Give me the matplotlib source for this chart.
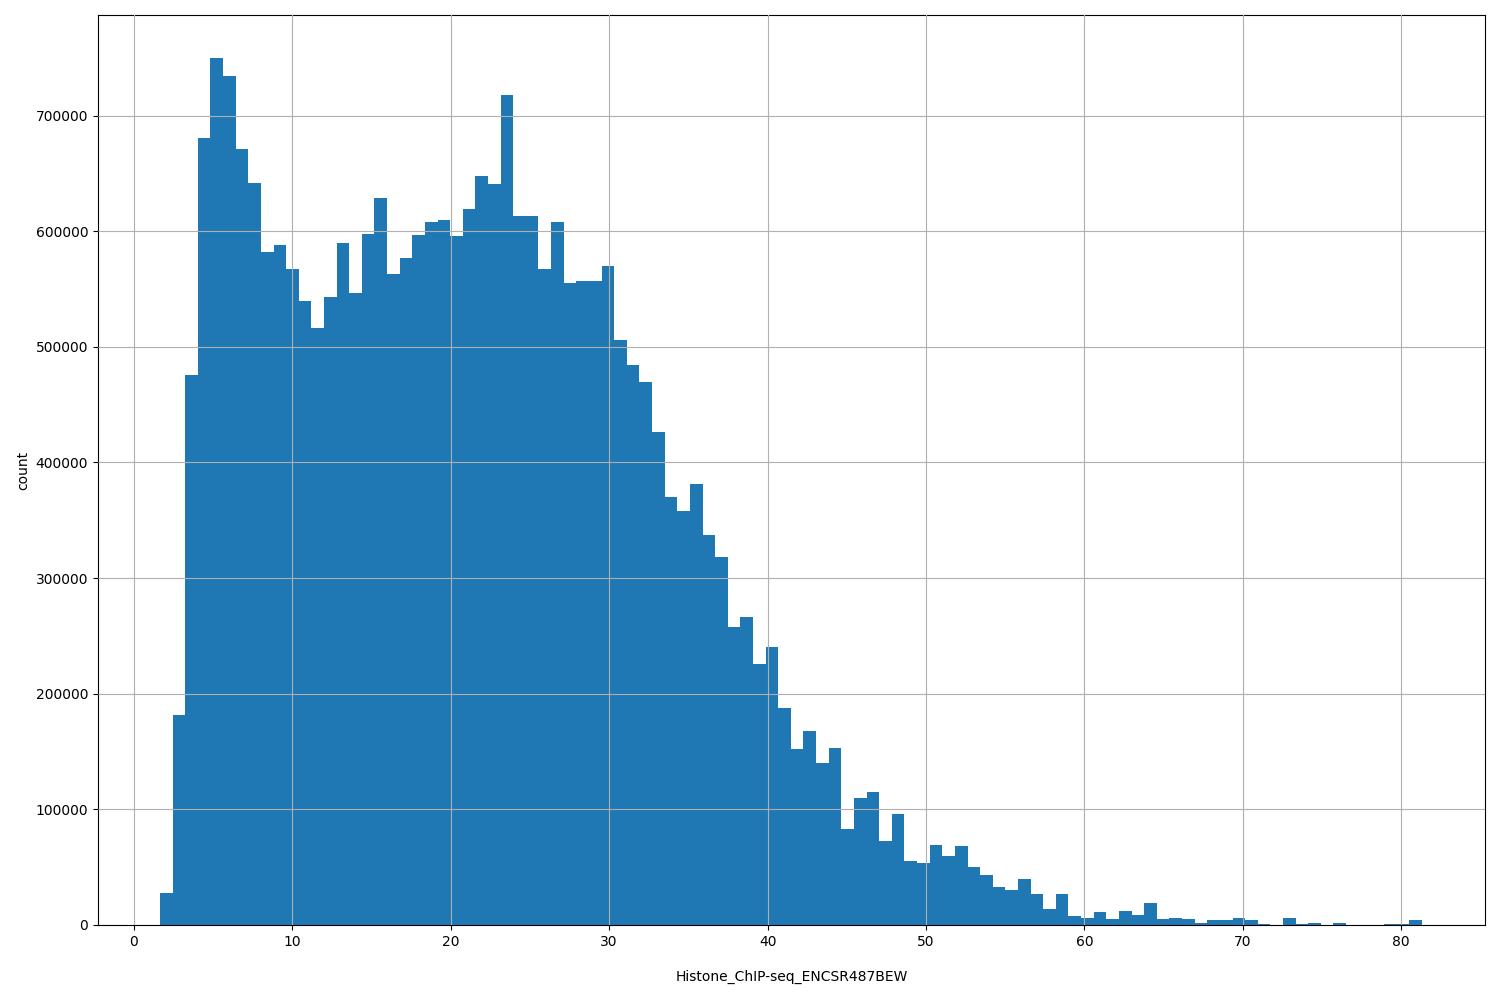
import matplotlib
matplotlib.use("Agg")
import matplotlib.pyplot as plt
import numpy as np

# histogram: 100 bins between ~1.64 and ~81.3
bin_start = 1.64
bin_stop = 81.3
counts = [28000, 182000, 476000, 681000, 750000, 734000, 671000, 642000, 582000, 588000,
          567000, 540000, 516000, 543000, 590000, 547000, 598000, 629000, 563000, 577000,
          597000, 608000, 610000, 596000, 619000, 648000, 641000, 718000, 613000, 613000,
          567000, 608000, 555000, 557000, 557000, 570000, 506000, 484000, 470000, 426000,
          370000, 358000, 381000, 337000, 318000, 258000, 266000, 226000, 240000, 188000,
          152000, 168000, 140000, 153000, 83000, 110000, 115000, 73000, 96000, 55000,
          54000, 69000, 60000, 68000, 50000, 43000, 33000, 30000, 40000, 27000,
          14000, 27000, 8000, 6000, 11000, 5000, 12000, 9000, 19000, 5000,
          6000, 5000, 1500, 4000, 4000, 6000, 4000, 500, 0, 6000,
          1000, 2000, 0, 2000, 0, 0, 0, 1000, 500, 4000]

edges = np.linspace(bin_start, bin_stop, len(counts) + 1)

fig = plt.figure(figsize=(15, 10), dpi=100)
ax = fig.add_axes([98/1500, 75/1000, (1485-98)/1500, (925-15)/1000])
ax.hist(edges[:-1], bins=edges, weights=counts, color='#1f77b4')
ax.grid(True)
ax.set_axisbelow(False)
ax.set_xlabel('Histone_ChIP-seq_ENCSR487BEW', labelpad=15)
ax.set_ylabel('count')
ax.set_xticks(np.arange(0, 81, 10))
ax.set_xlim(-2.27, 85.29)
ax.set_ylim(0, 787000)
fig.savefig('out.png')
